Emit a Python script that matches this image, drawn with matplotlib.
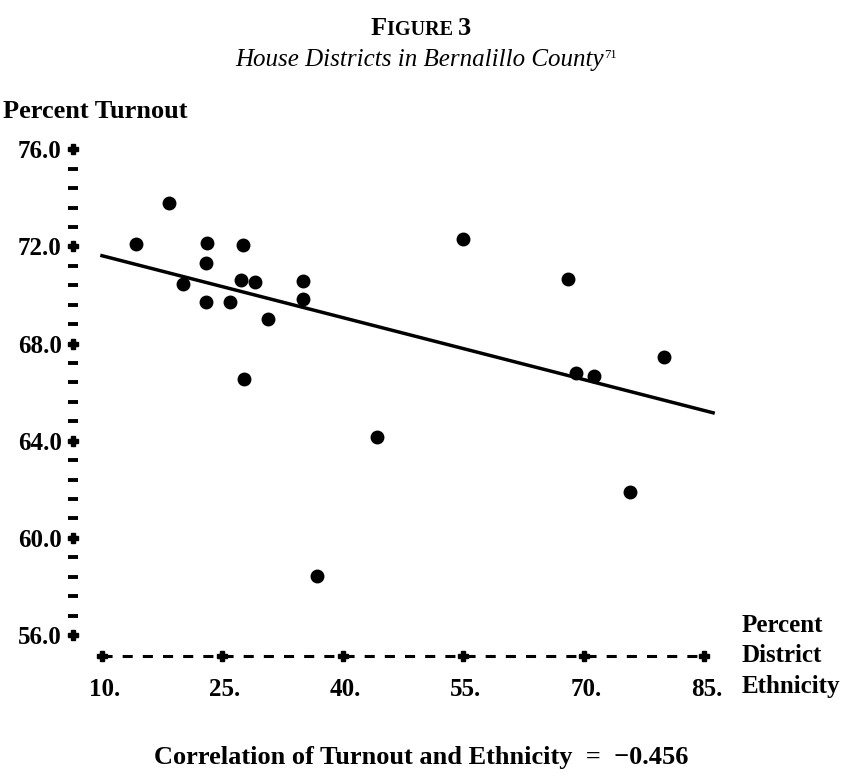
import numpy as np
import matplotlib
matplotlib.use("Agg")
import matplotlib.pyplot as plt
from matplotlib.transforms import IdentityTransform

plt.rcParams['font.family'] = ['Liberation Serif', 'DejaVu Serif']

# datos
ethnicity = [18.3, 14.2, 23.1, 27.5, 23.0, 27.3, 29.1, 35.0, 20.1, 35.0, 22.9,
             26.0, 30.7, 54.9, 68.0, 80.0, 69.0, 71.3, 27.7, 44.3, 36.8, 75.7]
turnout = [73.78, 72.09, 72.15, 72.06, 71.33, 70.62, 70.55, 70.59, 70.44, 69.85, 69.70,
           69.70, 69.01, 72.32, 70.65, 67.43, 66.77, 66.66, 66.53, 64.14, 58.44, 61.89]
fit_x = [10.0, 86.1]
fit_y = [71.62, 65.15]

y_ticks = [76.0, 72.0, 68.0, 64.0, 60.0, 56.0]
y_labels = ["76.0", "72.0", "68.0", "64.0", "60.0", "56.0"]
x_ticks = [10, 25, 40, 55, 70, 85]
x_labels = ["10.", "25.", "40.", "55.", "70.", "85."]

W, H = 842, 779
fig = plt.figure(figsize=(W / 100, H / 100), dpi=100)
# un solo eje que cubre toda la figura
ax = fig.add_axes([0, 0, 1, 1])
ax.set_xlim(-2.70, 102.15)
ax.set_ylim(50.07, 82.15)
ax.axis("off")

# eje y tipo impresora: '+' en los valores principales, guiones entre ellos
y_axis_x = 6.4
ax.plot([y_axis_x] * len(y_ticks), y_ticks, linestyle="none", marker="P",
        markersize=7, color="black")
minor = [v for v in np.arange(56.0, 76.0, 0.8) if all(abs(v - t) > 0.1 for t in y_ticks)]
ax.plot([y_axis_x] * len(minor), minor, linestyle="none", marker="_",
        markersize=7, markeredgewidth=2.8, color="black")
for v, lab in zip(y_ticks, y_labels):
    ax.text(5.0, v, lab, ha="right", va="center_baseline", fontsize=18, fontweight="bold")

# eje x punteado
x_axis_y = 55.13
ax.plot([x_ticks[0], x_ticks[-1]], [x_axis_y, x_axis_y], color="black", linewidth=2.2,
        dashes=(3.3, 3.3))
ax.plot(x_ticks, [x_axis_y] * len(x_ticks), linestyle="none", marker="P",
        markersize=7, color="black")
for v, lab in zip(x_ticks, x_labels):
    ax.text(v + 0.3, 53.85, lab, ha="center", va="center_baseline", fontsize=18, fontweight="bold")

# puntos y recta de regresion
ax.plot(ethnicity, turnout, linestyle="none", marker="o", markersize=9, color="black")
ax.plot(fit_x, fit_y, color="black", linewidth=2.5)


# texto en pixeles (origen arriba a la izquierda)
def px_text(x, y, s, **kw):
    return ax.text(x, H - y, s, transform=IdentityTransform(), **kw)


def runs_centered(runs, cx, cy, skip_last=False):
    renderer = fig.canvas.get_renderer()
    objs = [px_text(0, cy + dy, s, va="baseline", **kw) for s, dy, kw in runs]
    widths = [o.get_window_extent(renderer).width for o in objs]
    total = sum(widths[:-1]) if skip_last else sum(widths)
    x = cx - total / 2
    for o, w in zip(objs, widths):
        o.set_x(x)
        x += w


runs_centered([("F", 0, dict(fontsize=19, fontweight="bold")),
               ("IGURE ", 0, dict(fontsize=14.5, fontweight="bold")),
               ("3", 0, dict(fontsize=19, fontweight="bold"))], 421, 35)
runs_centered([("House Districts in Bernalillo County", 0, dict(fontsize=18, fontstyle="italic")),
               ("71", -8, dict(fontsize=9))], 420, 66, skip_last=True)

px_text(3, 118, "Percent Turnout", ha="left", va="baseline", fontsize=19, fontweight="bold")
for i, s in enumerate(["Percent", "District", "Ethnicity"]):
    px_text(742, 626 + 30 * i, s, ha="left", va="center", fontsize=18, fontweight="bold")
px_text(421, 764, "Correlation of Turnout and Ethnicity  =  \u22120.456", ha="center",
        va="baseline", fontsize=19, fontweight="bold")

fig.savefig("out.png", dpi=100)
plt.close(fig)
